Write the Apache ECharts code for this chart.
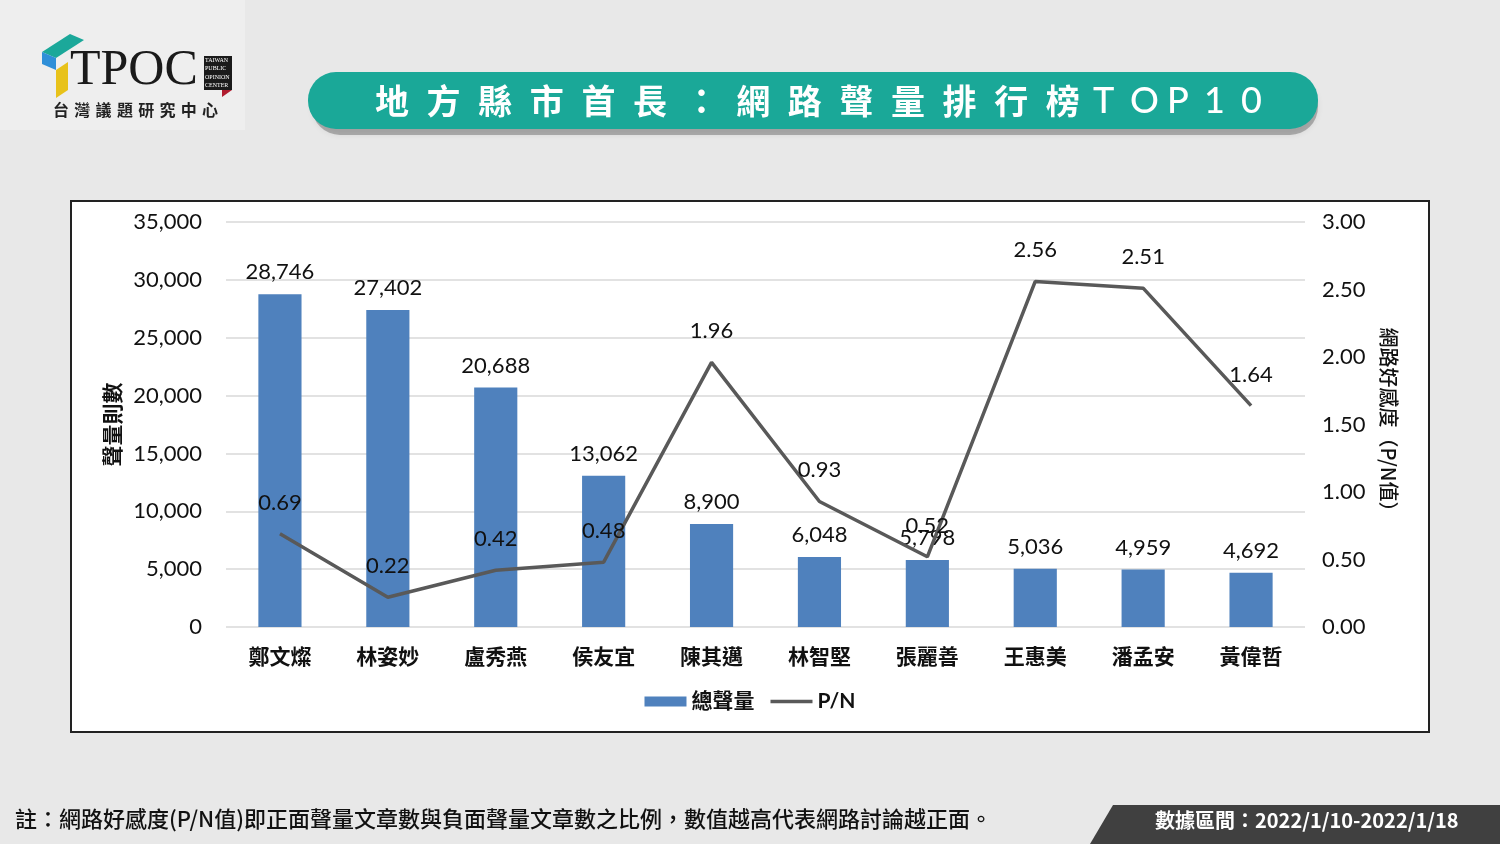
<!DOCTYPE html>
<html><head><meta charset="utf-8">
<script src="https://cdn.jsdelivr.net/npm/echarts@6/dist/echarts.min.js"></script>
<style>html,body{margin:0;padding:0;background:#e8e8e8;}#c{width:1500px;height:844px;}</style>
</head><body><div id="c"></div>
<script>
const categories = ['鄭文燦','林姿妙','盧秀燕','侯友宜','陳其邁','林智堅','張麗善','王惠美','潘孟安','黃偉哲'];
const volumeValues = [28746, 27402, 20688, 13062, 8900, 6048, 5798, 5036, 4959, 4692];
const pnValues = [0.69, 0.22, 0.42, 0.48, 1.96, 0.93, 0.52, 2.56, 2.51, 1.64];
const seriesNames = ['總聲量', 'P/N'];
const titleCJK = '地方縣市首長：網路聲量排行榜';
const titleLatin = 'TOP10';
const orgName = '台灣議題研究中心';
const noteText = '註：網路好感度(P/N值)即正面聲量文章數與負面聲量文章數之比例，數值越高代表網路討論越正面。';
const rangeText = '數據區間：2022/1/10-2022/1/18';

const FONT = "Lato, 'Noto Sans CJK TC', sans-serif";
const CJK = "'Noto Sans CJK TC', sans-serif";

const graphics = [
  {type: 'rect', z: -10, shape: {x: 0, y: 0, width: 245, height: 130}, style: {fill: '#eeeeee'}},
  {type: 'polygon', z: -5, shape: {points: [[42,52],[70,34],[84,40],[56,58]]}, style: {fill: '#1ba89a'}},
  {type: 'polygon', z: -5, shape: {points: [[42,52],[56,58],[56,70],[42,64]]}, style: {fill: '#2f8fd8'}},
  {type: 'polygon', z: -5, shape: {points: [[56,70],[68,62],[68,90],[56,98]]}, style: {fill: '#e8c21a'}},
  {type: 'text', z: 5, left: 70, top: 46, style: {text: 'TPOC', font: '50px "Liberation Serif", serif', fill: '#1a1a1a'}},
  {type: 'rect', z: 5, shape: {x: 204, y: 56, width: 28, height: 34}, style: {fill: '#1a1a1a'}},
  {type: 'text', z: 6, left: 205, top: 56, style: {text: 'TAIWAN\nPUBLIC\nOPINION\nCENTER', font: '6px serif', fill: '#ffffff', lineHeight: 8.5}},
  {type: 'polygon', z: 5, shape: {points: [[222,90],[232,90],[222,97]]}, style: {fill: '#b01c2e'}},
  {type: 'rect', z: -6, shape: {x: 312, y: 78, width: 1006, height: 57, r: 28}, style: {fill: 'rgba(0,0,0,0.25)', shadowBlur: 6, shadowColor: 'rgba(0,0,0,0.3)'}},
  {type: 'rect', z: -5, shape: {x: 308, y: 72, width: 1010, height: 57, r: 28}, style: {fill: '#1aa898'}},
  {type: 'rect', z: -10, shape: {x: 71, y: 201, width: 1358, height: 531}, style: {fill: '#ffffff', stroke: '#222', lineWidth: 2}},
  {type: 'text', z: 5, left: 15, top: 808, style: {text: noteText, font: '500 22px ' + CJK, fill: '#111'}},
  {type: 'polygon', z: 1, shape: {points: [[1113,805],[1500,805],[1500,844],[1090,844]]}, style: {fill: '#404040'}},
  {type: 'text', z: 5, left: 1155, top: 810, style: {text: rangeText, font: 'bold 20px ' + CJK, fill: '#ffffff'}}
];
Array.from(titleCJK).forEach((ch, i) => {
  graphics.push({type: 'text', z: 5, left: 375 + i * 51.6, top: 84, style: {text: ch, font: 'bold 34px ' + CJK, fill: '#ffffff'}});
});
Array.from(titleLatin).forEach((ch, i) => {
  graphics.push({type: 'text', z: 5, left: 1093 + i * 37, top: 83, style: {text: ch, font: '500 36px ' + FONT, fill: '#ffffff'}});
});
Array.from(orgName).forEach((ch, i) => {
  graphics.push({type: 'text', z: 5, left: 53 + i * 21.3, top: 102, style: {text: ch, font: 'bold 16px ' + CJK, fill: '#222'}});
});

const chart = echarts.init(document.getElementById('c'));
chart.setOption({
  backgroundColor: '#e8e8e8',
  animation: false,
  textStyle: {fontFamily: FONT},
  graphic: graphics,
  legend: {
    bottom: 127, left: 'center',
    itemGap: 16,
    symbolKeepAspect: true,
    textStyle: {fontSize: 21, color: '#111', fontFamily: FONT, fontWeight: 'bold'},
    data: [
      {name: seriesNames[0], icon: 'rect', itemStyle: {color: '#4f81bd'}},
      {name: seriesNames[1], icon: 'path://M0,0L42,0L42,3.5L0,3.5Z', itemStyle: {color: '#595959'}}
    ],
    itemWidth: 42, itemHeight: 10
  },
  grid: {left: 226, right: 195, top: 222, bottom: 217, containLabel: false},
  xAxis: {
    type: 'category', data: categories,
    axisLine: {show: false}, axisTick: {show: false},
    axisLabel: {fontSize: 21, color: '#111', margin: 19, fontFamily: CJK, fontWeight: 'bold'}
  },
  yAxis: [
    {
      type: 'value', min: 0, max: 35000, interval: 5000,
      name: '聲量則數', nameLocation: 'middle', nameGap: 103,
      nameTextStyle: {fontSize: 21, color: '#111', fontFamily: CJK, fontWeight: 'bold'},
      axisLine: {show: false}, axisTick: {show: false},
      axisLabel: {fontSize: 22, color: '#111', margin: 24, formatter: v => v.toLocaleString('en-US')},
      splitLine: {lineStyle: {color: '#d9d9d9', width: 1.5}}
    },
    {
      type: 'value', min: 0, max: 3, interval: 0.5, position: 'right',
      name: '網路好感度（P/N值）', nameLocation: 'middle', nameGap: 74, nameRotate: -90,
      nameTextStyle: {fontSize: 20, color: '#111', fontFamily: CJK, fontWeight: 500},
      axisLine: {show: false}, axisTick: {show: false},
      axisLabel: {fontSize: 22, color: '#111', margin: 17, formatter: v => v.toFixed(2)},
      splitLine: {show: false}
    }
  ],
  series: [
    {
      name: seriesNames[0], type: 'bar', data: volumeValues, barWidth: '40%',
      itemStyle: {color: '#4f81bd'},
      label: {show: true, position: 'top', distance: 11, fontSize: 22, color: '#111', formatter: p => p.value.toLocaleString('en-US')}
    },
    {
      name: seriesNames[1], type: 'line', yAxisIndex: 1, data: pnValues,
      symbol: 'circle', symbolSize: 0.1, showSymbol: true,
      lineStyle: {color: '#595959', width: 3.5}, itemStyle: {color: '#595959'},
      label: {show: true, position: 'top', distance: 20, fontSize: 22, color: '#111', formatter: p => p.value.toFixed(2)},
      z: 3
    }
  ]
});
</script></body></html>
